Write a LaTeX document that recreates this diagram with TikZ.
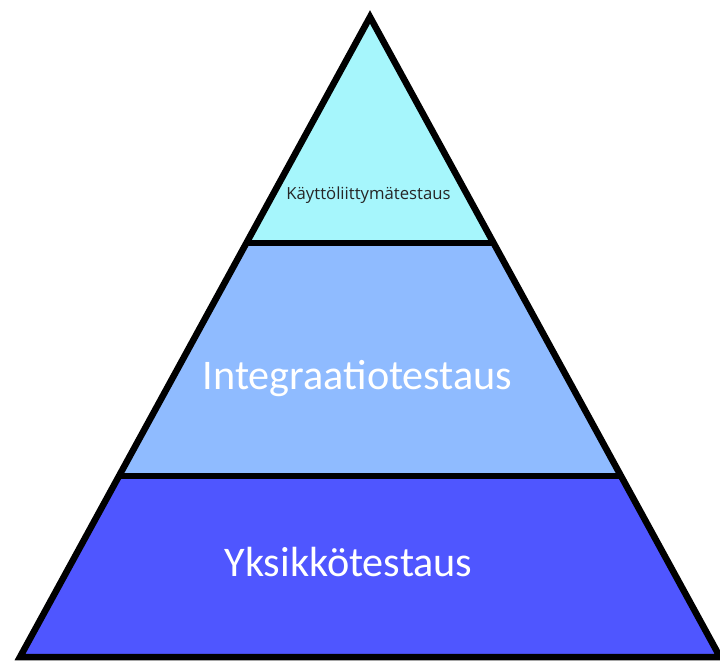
\documentclass[tikz,border=0pt]{standalone}
\usepackage{fontspec}
\setmainfont{Carlito}
\newfontfamily\labelsans{Open Sans}
\usetikzlibrary{calc}
\definecolor{tiertop}{HTML}{A6F6FC}
\definecolor{tiermid}{HTML}{8FBBFF}
\definecolor{tierbot}{HTML}{4F56FF}
\tikzset{
  edge/.style={line width=6.5pt, line join=miter, black},
  bigtext/.style={text=white, anchor=base, inner sep=0pt, font=\fontsize{42.2}{42.2}\selectfont},
  smalltext/.style={text=black!85, anchor=base, inner sep=0pt, font=\labelsans\fontsize{16.7}{16.7}\selectfont}
}
\begin{document}
\begin{tikzpicture}[x=1pt,y=-1pt]
  \useasboundingbox (0,0) rectangle (720,664);
  % corners of the pyramid
  \coordinate (apex) at (370,17);
  \coordinate (bl) at (20,657);
  \coordinate (br) at (720,657);
  % tier boundaries on the slanted sides
  \coordinate (l1) at ($(apex)!{(243-17)/640}!(bl)$);
  \coordinate (r1) at ($(apex)!{(243-17)/640}!(br)$);
  \coordinate (l2) at ($(apex)!{(476-17)/640}!(bl)$);
  \coordinate (r2) at ($(apex)!{(476-17)/640}!(br)$);
  % tier fills
  \fill[tiertop] (apex) -- (l1) -- (r1) -- cycle;
  \fill[tiermid] (l1) -- (l2) -- (r2) -- (r1) -- cycle;
  \fill[tierbot] (l2) -- (bl) -- (br) -- (r2) -- cycle;
  % outline and dividers
  \draw[edge] (apex) -- (bl) -- (br) -- cycle;
  \draw[edge] (l1) -- (r1);
  \draw[edge] (l2) -- (r2);
  % labels (placed by baseline)
  \node[smalltext] (t1) at (368.5,199) {Käyttöliittymätestaus};
  \node[bigtext] (t2) at (357.5,389) {Integraatiotestaus};
  \node[bigtext] (t3) at (348.5,576) {Yksikkötestaus};
\end{tikzpicture}
\end{document}
